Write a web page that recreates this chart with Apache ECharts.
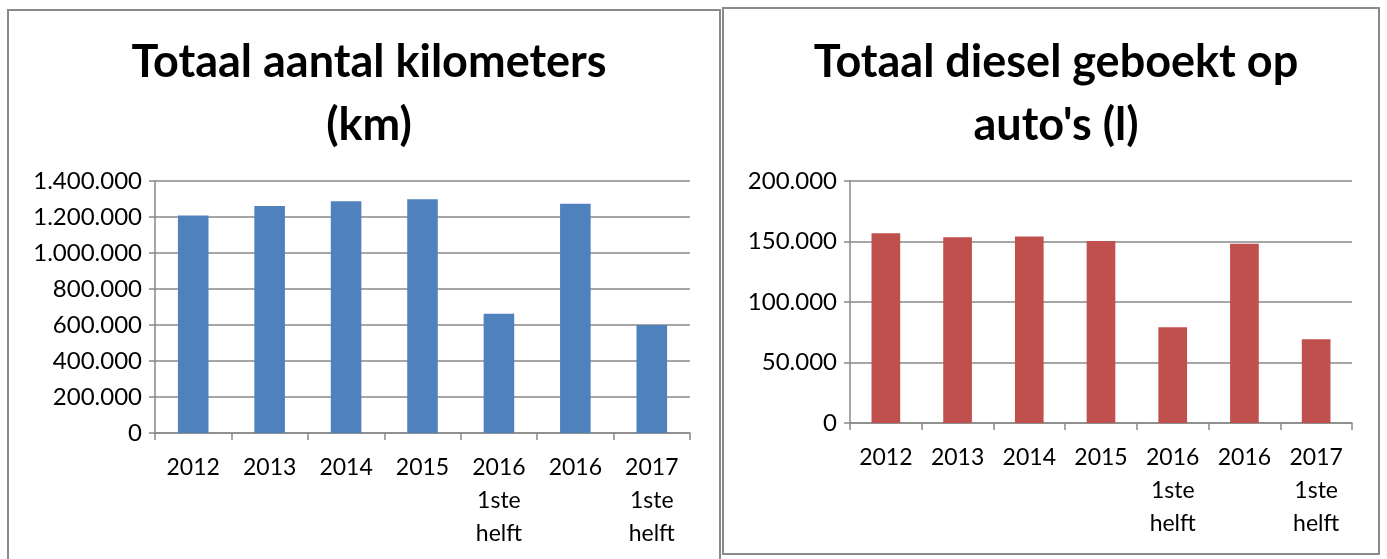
<!DOCTYPE html>
<html><head><meta charset="utf-8">
<script src="https://cdn.jsdelivr.net/npm/echarts@6/dist/echarts.min.js"></script>
<style>html,body{margin:0;padding:0;background:#fff}#c{width:1387px;height:559px}</style>
</head><body><div id="c"></div>
<script>
const categories = ['2012','2013','2014','2015','2016\n1ste\nhelft','2016','2017\n1ste\nhelft'];
const kilometers = [1209000, 1261000, 1287000, 1298000, 663000, 1274000, 600000];
const diesel = [156900, 153600, 154100, 150500, 79100, 148100, 69200];
const titleKm = 'Totaal aantal kilometers\n(km)';
const titleDiesel = 'Totaal diesel geboekt op\nauto\'s (l)';

const FONT = 'Lato';
function fmt(v){ return String(v).replace(/\B(?=(\d{3})+(?!\d))/g, '.'); }
const gray = '#898989';
function xAxis(gi){ return {
  type:'category', gridIndex:gi, data:categories,
  axisLine:{lineStyle:{color:gray,width:1.5}},
  axisTick:{show:true,length:7,lineStyle:{color:gray,width:1.5}},
  axisLabel:{color:'#000',fontFamily:FONT,fontSize:23,lineHeight:33,margin:18,interval:0}
};}
function yAxis(gi,max,interval){ return {
  type:'value', gridIndex:gi, min:0, max:max, interval:interval,
  axisLine:{show:true,lineStyle:{color:gray,width:1.5}},
  axisTick:{show:true,length:6,lineStyle:{color:gray,width:1.5}},
  splitLine:{lineStyle:{color:gray,width:1.5}},
  axisLabel:{color:'#000',fontFamily:FONT,fontSize:24,margin:13,formatter:fmt}
};}
const chart = echarts.init(document.getElementById('c'), null, {renderer:'canvas'});
chart.setOption({
  animation:false,
  title:[
    {text:titleKm,left:364,top:26,textAlign:'center',textStyle:{fontFamily:FONT,fontSize:45,fontWeight:'bold',color:'#000',lineHeight:63}},
    {text:titleDiesel,left:1051,top:26,textAlign:'center',textStyle:{fontFamily:FONT,fontSize:45,fontWeight:'bold',color:'#000',lineHeight:63}}
  ],
  graphic:[
    {type:'rect',shape:{x:8,y:10,width:712,height:570},style:{fill:'none',stroke:'#8a8a8a',lineWidth:2},silent:true},
    {type:'rect',shape:{x:723,y:8,width:656,height:546},style:{fill:'none',stroke:'#8a8a8a',lineWidth:2},silent:true}
  ],
  grid:[
    {left:155,right:697,top:181,bottom:126},
    {left:850,right:35,top:181,bottom:136}
  ],
  xAxis:[xAxis(0),xAxis(1)],
  yAxis:[yAxis(0,1400000,200000),yAxis(1,200000,50000)],
  series:[
    {type:'bar',xAxisIndex:0,yAxisIndex:0,data:kilometers,barWidth:'40%',itemStyle:{color:'#4F81BD'}},
    {type:'bar',xAxisIndex:1,yAxisIndex:1,data:diesel,barWidth:'40%',itemStyle:{color:'#C0504D'}}
  ]
});
</script></body></html>
